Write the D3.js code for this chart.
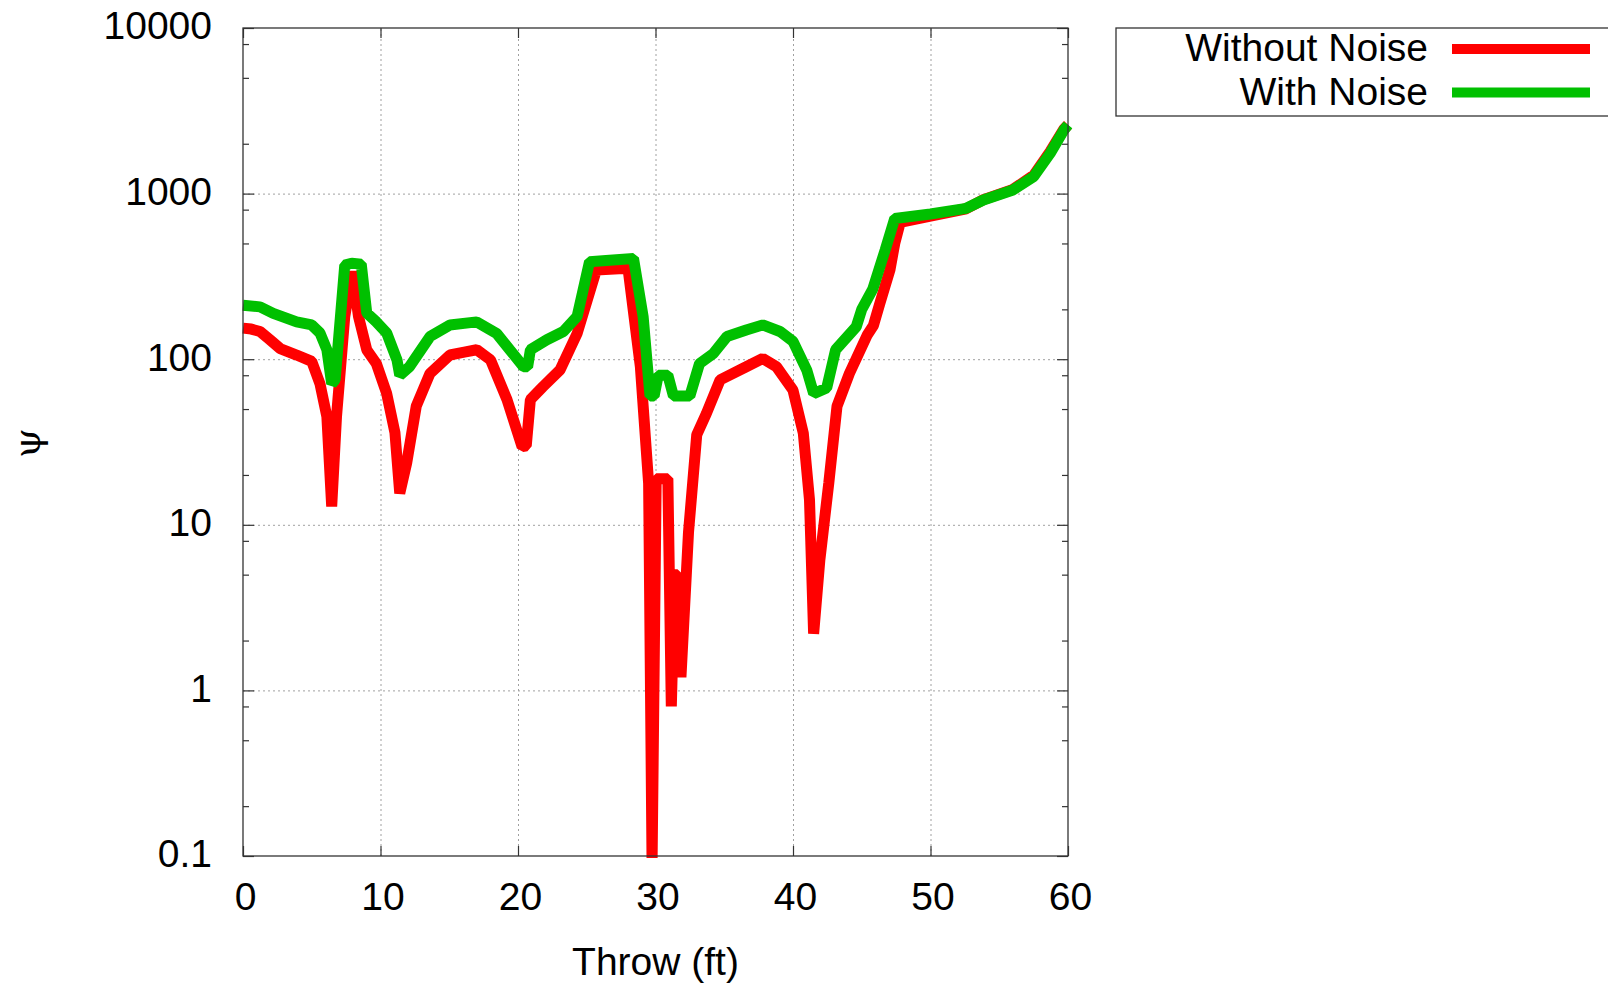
<!DOCTYPE html>
<html>
<head>
<meta charset="utf-8">
<script src="https://cdn.jsdelivr.net/npm/d3@7"></script>
<style>
  body { margin: 0; background: #fff; }
  text { font-family: "Liberation Sans", Arial, sans-serif; fill: #000; }
</style>
</head>
<body>
<div id="dataVis"></div>
<script>
// series values (throw in ft, psi)
var throwNoNoise = [0, 0.6, 1.24, 1.96, 2.7, 3.9, 5.0, 5.6, 6.1, 6.45, 6.8, 7.4, 7.95, 8.4, 9.0, 9.7, 10.45, 11.05, 11.4, 11.9,
    12.6, 13.6, 15.05, 16.0, 17.0, 18.0, 19.2, 20.3, 20.6, 20.9, 21.8, 23.05, 24.3, 25.7, 28.0, 28.9, 29.5, 29.75, 30.05, 30.9,
    31.15, 31.4, 31.6, 31.85, 32.4, 33.0, 33.7, 34.7, 36.6, 37.8, 38.8, 40.0, 40.75, 41.2, 41.5, 41.95, 42.6, 43.2, 44.1, 45.4,
    45.85, 46.3, 47.05, 47.4, 47.8, 50.0, 52.6, 53.85, 56.0, 57.5, 58.7, 59.7, 60];
var psiNoNoise = [154, 152, 147, 131, 116, 106, 97, 71, 45, 12.9, 45, 181, 338, 181, 114, 94, 62, 36, 15.5, 23.5,
    52, 82, 106, 110, 114, 99, 57, 29.6, 30, 57, 68, 86, 143, 346, 354, 90, 17.8, 0.09, 19, 19,
    0.8, 5, 5, 1.2, 9, 35, 47, 75, 90, 101, 90, 65, 35.7, 14.1, 2.2, 6.1, 17.8, 52, 82, 140,
    160, 215, 346, 500, 670, 730, 810, 920, 1060, 1290, 1790, 2450, 2600];

var throwNoise = [0, 1.24, 2.2, 3.9, 5.0, 5.6, 6.1, 6.45, 6.7, 7.4, 7.9, 8.6, 9.0, 9.7, 10.45, 11.2, 11.4, 12.1, 13.6, 15.05,
    17.0, 18.45, 19.4, 20.4, 20.7, 20.9, 22.1, 23.3, 24.3, 25.2, 28.4, 29.1, 29.6, 29.9, 30.2, 30.9, 31.3, 32.5, 33.2, 34.2,
    35.2, 36.6, 37.8, 39.05, 40.0, 41.0, 41.5, 42.45, 43.1, 44.6, 45.0, 45.8, 46.7, 47.4, 50.0, 52.6, 53.85, 56.0, 57.5, 58.7,
    59.7, 60];
var psiNoise = [212, 207, 189, 168, 161, 144, 114, 71, 75, 370, 380, 375, 190, 168, 144, 99, 80, 90, 137, 161,
    168, 143, 114, 90, 90, 114, 131, 147, 181, 388, 406, 181, 60, 60, 80, 80, 60, 60, 94, 108,
    137, 150, 161, 147, 128, 86, 62, 67, 114, 157, 200, 265, 456, 708, 753, 815, 915, 1052, 1265, 1750,
    2420, 2600];

var seriesNames = ['Without Noise', 'With Noise'];
var seriesColors = ['#ff0000', '#00c000'];

// tick values
var xTicks = [0, 10, 20, 30, 40, 50, 60];
var yTicks = [0.1, 1, 10, 100, 1000, 10000];
var yTickLabels = ['0.1', '1', '10', '100', '1000', '10000'];
var yMinorTicks = [];
[0.1, 1, 10, 100, 1000].forEach(function (d) {
    [2, 5, 8].forEach(function (m) { yMinorTicks.push(+(d * m).toPrecision(3)); });
});

var winWidth = 1608;
var winHeight = 987;

var margin = { top: 28, right: 540, bottom: 131, left: 243 },
    width = winWidth - margin.left - margin.right,
    height = winHeight - margin.top - margin.bottom;

var svg = d3.select("#dataVis").append("svg")
    .attr("width", winWidth)
    .attr("height", winHeight);

var graph = svg.append("g")
    .attr("transform", "translate(" + margin.left + "," + margin.top + ")");

var x = d3.scaleLinear().domain([0, 60]).range([0, width]);
var y = d3.scaleLog().domain([0.1, 10000]).range([height, 0]);

// grid
graph.append("g")
    .attr("class", "grid")
    .attr("transform", "translate(0," + height + ")")
    .call(d3.axisBottom(x).tickValues(xTicks.slice(1, -1)).tickSize(-height).tickFormat(""));
graph.append("g")
    .attr("class", "grid")
    .call(d3.axisLeft(y).tickValues(yTicks.slice(1, -1)).tickSize(-width).tickFormat(""));
graph.selectAll(".grid .domain").remove();
graph.selectAll(".grid line")
    .attr("stroke", "#a0a0a0")
    .attr("stroke-width", 1)
    .attr("stroke-dasharray", "2,3");

// ticks, pointing inward on all four sides
var xAxisCall = d3.axisBottom(x).tickValues(xTicks).tickSize(-10).tickPadding(26).tickFormat(d3.format("d"));
var xTopCall = d3.axisTop(x).tickValues(xTicks).tickSize(-10).tickFormat("");
var yAxisCall = d3.axisLeft(y).tickValues(yTicks).tickSize(-11).tickPadding(31)
    .tickFormat(function (d, i) { return yTickLabels[i]; });
var yRightCall = d3.axisRight(y).tickValues(yTicks).tickSize(-11).tickFormat("");
var yMinorL = d3.axisLeft(y).tickValues(yMinorTicks).tickSize(-6).tickFormat("");
var yMinorR = d3.axisRight(y).tickValues(yMinorTicks).tickSize(-6).tickFormat("");

graph.append("g").attr("class", "axis").attr("transform", "translate(0," + height + ")").call(xAxisCall);
graph.append("g").attr("class", "axis").call(xTopCall);
graph.append("g").attr("class", "axis").call(yAxisCall);
graph.append("g").attr("class", "axis").attr("transform", "translate(" + width + ",0)").call(yRightCall);
graph.append("g").attr("class", "axis").call(yMinorL);
graph.append("g").attr("class", "axis").attr("transform", "translate(" + width + ",0)").call(yMinorR);

graph.selectAll(".axis .domain").remove();
graph.selectAll(".axis line").attr("stroke", "#333").attr("stroke-width", 1.2);
graph.selectAll(".axis text")
    .style("font-family", '"Liberation Sans", Arial, sans-serif')
    .style("font-size", "39px")
    .attr("fill", "#000");
graph.selectAll(".axis text").filter(function () { return this.getAttribute("dy") === "0.71em"; })
    .attr("dx", 2);
graph.selectAll(".axis text").filter(function () { return this.getAttribute("dy") === "0.32em"; })
    .attr("dy", "0.28em");

// clip the curves at the bottom border only
svg.append("defs").append("clipPath").attr("id", "plotClip")
    .append("rect")
    .attr("x", -20).attr("y", -10)
    .attr("width", width + 40).attr("height", height + 12);

var line = d3.line()
    .x(function (d) { return x(d[0]); })
    .y(function (d) { return y(d[1]); });

var seriesData = [
    d3.zip(throwNoNoise, psiNoNoise),
    d3.zip(throwNoise, psiNoise)
];

graph.append("g").attr("clip-path", "url(#plotClip)")
    .selectAll("path")
    .data(seriesData)
    .enter().append("path")
    .attr("d", line)
    .attr("fill", "none")
    .attr("stroke", function (d, i) { return seriesColors[i]; })
    .attr("stroke-width", 11)
    .attr("stroke-linejoin", "bevel")
    .attr("stroke-linecap", "butt");

// border
graph.append("rect")
    .attr("width", width)
    .attr("height", height)
    .attr("fill", "none")
    .attr("stroke", "#333")
    .attr("stroke-width", 1.3);

// axis labels
svg.append("text")
    .attr("x", margin.left + width / 2)
    .attr("y", 975)
    .attr("text-anchor", "middle")
    .style("font-size", "39px")
    .text("Throw (ft)");

svg.append("text")
    .attr("transform", "translate(29,443) rotate(-90)")
    .attr("text-anchor", "middle")
    .attr("dy", "0.3em")
    .style("font-family", '"DejaVu Serif", "Liberation Serif", serif')
    .style("font-size", "38px")
    .text("ψ");

// legend
var legend = svg.append("g");
legend.append("rect")
    .attr("x", 1116).attr("y", 28)
    .attr("width", 520).attr("height", 88)
    .attr("fill", "#fff")
    .attr("stroke", "#333")
    .attr("stroke-width", 1.3);

seriesNames.forEach(function (name, i) {
    var ly = 49 + i * 43.5;
    legend.append("text")
        .attr("x", 1428)
        .attr("y", ly + 12)
        .attr("text-anchor", "end")
        .style("font-size", "39px")
        .text(name);
    legend.append("line")
        .attr("x1", 1452).attr("x2", 1590)
        .attr("y1", ly).attr("y2", ly)
        .attr("stroke", seriesColors[i])
        .attr("stroke-width", 10);
});
</script>
</body>
</html>
